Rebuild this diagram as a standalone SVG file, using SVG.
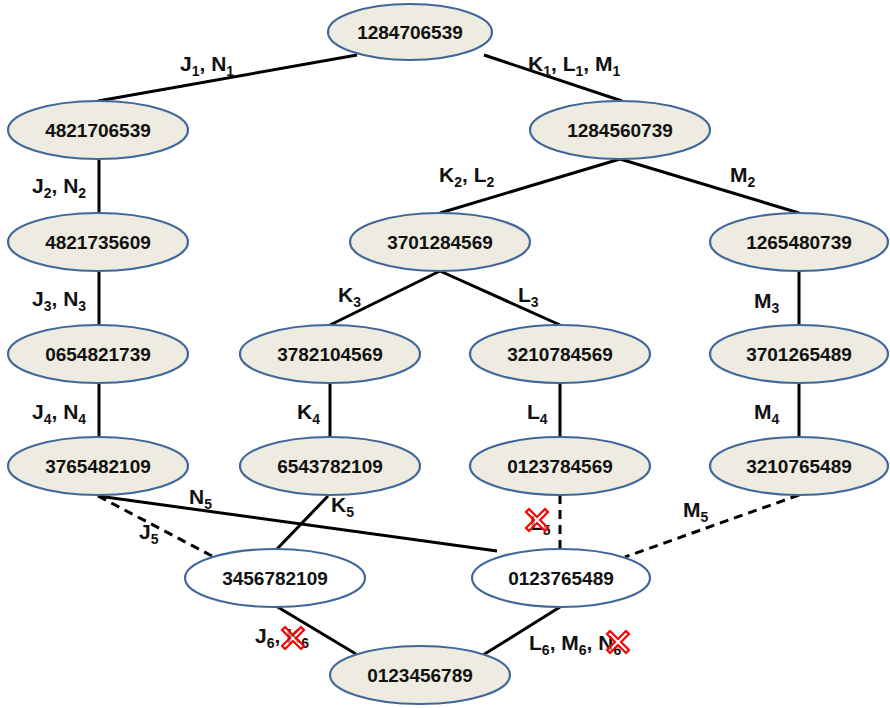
<svg xmlns="http://www.w3.org/2000/svg" width="890" height="708" viewBox="0 0 890 708">
<style>
.n ellipse{fill:#EEECE1;stroke:#41679A;stroke-width:2.2}
.n.w ellipse{fill:#FFFFFF}
.n text{font-family:"Liberation Sans",Arial,sans-serif;font-weight:bold;font-size:19px;text-anchor:middle;fill:#111}
.c line{stroke:#000;stroke-width:3}
.c line.d{stroke-dasharray:9,6}
.l{font-family:"Liberation Sans",Arial,sans-serif;font-weight:bold;font-size:21px;fill:#111}
.s{font-size:14px}
.x{fill:#fff;fill-opacity:0.55;stroke:#FF0000;stroke-width:2.2;stroke-linejoin:miter}
</style>
<defs>
<path id="xm" d="M-11,-8 L-8,-11 L0,-3 L8,-11 L11,-8 L3,0 L11,8 L8,11 L0,3 L-8,11 L-11,8 L-3,0 Z"/>
</defs>
<g class="c">
<line x1="357" y1="55" x2="98" y2="101"/>
<line x1="484" y1="55" x2="622" y2="101"/>
<line x1="99" y1="159" x2="99" y2="213"/>
<line x1="620" y1="159" x2="440" y2="213"/>
<line x1="620" y1="159" x2="799" y2="213"/>
<line x1="99" y1="271" x2="99" y2="325"/>
<line x1="440" y1="271" x2="330" y2="325"/>
<line x1="440" y1="271" x2="560" y2="325"/>
<line x1="799" y1="271" x2="799" y2="325"/>
<line x1="99" y1="383" x2="99" y2="437"/>
<line x1="330" y1="383" x2="330" y2="437"/>
<line x1="560" y1="383" x2="560" y2="437"/>
<line x1="799" y1="383" x2="799" y2="437"/>
<line class="d" x1="98" y1="496" x2="212" y2="556"/>
<line x1="98" y1="496" x2="497" y2="551"/>
<line x1="328" y1="496" x2="277" y2="549"/>
<line class="d" x1="560" y1="495" x2="560" y2="549"/>
<line class="d" x1="799" y1="495" x2="625" y2="557"/>
<line x1="276" y1="606" x2="356" y2="654"/>
<line x1="483" y1="655" x2="560" y2="607"/>
</g>
<g id="n1284706539" class="n"><ellipse cx="410" cy="32" rx="82" ry="28"/><text x="410" y="39">1284706539</text></g>
<g id="n4821706539" class="n"><ellipse cx="98" cy="130" rx="90" ry="29"/><text x="98" y="137">4821706539</text></g>
<g id="n1284560739" class="n"><ellipse cx="620" cy="130" rx="90" ry="29"/><text x="620" y="137">1284560739</text></g>
<g id="n4821735609" class="n"><ellipse cx="98" cy="242" rx="90" ry="29"/><text x="98" y="249">4821735609</text></g>
<g id="n3701284569" class="n"><ellipse cx="440" cy="242" rx="90" ry="29"/><text x="440" y="249">3701284569</text></g>
<g id="n1265480739" class="n"><ellipse cx="799" cy="242" rx="89" ry="29"/><text x="799" y="249">1265480739</text></g>
<g id="n0654821739" class="n"><ellipse cx="98" cy="354" rx="90" ry="29"/><text x="98" y="361">0654821739</text></g>
<g id="n3782104569" class="n"><ellipse cx="330" cy="354" rx="90" ry="29"/><text x="330" y="361">3782104569</text></g>
<g id="n3210784569" class="n"><ellipse cx="560" cy="354" rx="90" ry="29"/><text x="560" y="361">3210784569</text></g>
<g id="n3701265489" class="n"><ellipse cx="799" cy="354" rx="89" ry="29"/><text x="799" y="361">3701265489</text></g>
<g id="n3765482109" class="n"><ellipse cx="98" cy="466" rx="90" ry="29"/><text x="98" y="473">3765482109</text></g>
<g id="n6543782109" class="n"><ellipse cx="330" cy="466" rx="90" ry="29"/><text x="330" y="473">6543782109</text></g>
<g id="n0123784569" class="n"><ellipse cx="560" cy="466" rx="90" ry="29"/><text x="560" y="473">0123784569</text></g>
<g id="n3210765489" class="n"><ellipse cx="799" cy="466" rx="89" ry="29"/><text x="799" y="473">3210765489</text></g>
<g id="n3456782109" class="n w"><ellipse cx="275" cy="578" rx="90" ry="29"/><text x="275" y="585">3456782109</text></g>
<g id="n0123765489" class="n w"><ellipse cx="561" cy="578" rx="89" ry="29"/><text x="561" y="585">0123765489</text></g>
<g id="n0123456789" class="n"><ellipse cx="420" cy="675" rx="90" ry="29"/><text x="420" y="682">0123456789</text></g>
<g id="labels">
<text class="l" x="180" y="71">J<tspan class="s" dy="5">1</tspan><tspan dy="-5">, N</tspan><tspan class="s" dy="5">1</tspan></text>
<text class="l" x="528" y="71">K<tspan class="s" dy="5">1</tspan><tspan dy="-5">, L</tspan><tspan class="s" dy="5">1</tspan><tspan dy="-5">, M</tspan><tspan class="s" dy="5">1</tspan></text>
<text class="l" x="32" y="193">J<tspan class="s" dy="5">2</tspan><tspan dy="-5">, N</tspan><tspan class="s" dy="5">2</tspan></text>
<text class="l" x="439" y="182">K<tspan class="s" dy="5">2</tspan><tspan dy="-5">, L</tspan><tspan class="s" dy="5">2</tspan></text>
<text class="l" x="730" y="182">M<tspan class="s" dy="5">2</tspan></text>
<text class="l" x="32" y="306">J<tspan class="s" dy="5">3</tspan><tspan dy="-5">, N</tspan><tspan class="s" dy="5">3</tspan></text>
<text class="l" x="338" y="302">K<tspan class="s" dy="5">3</tspan></text>
<text class="l" x="518" y="302">L<tspan class="s" dy="5">3</tspan></text>
<text class="l" x="754" y="308">M<tspan class="s" dy="5">3</tspan></text>
<text class="l" x="32" y="419">J<tspan class="s" dy="5">4</tspan><tspan dy="-5">, N</tspan><tspan class="s" dy="5">4</tspan></text>
<text class="l" x="297" y="419">K<tspan class="s" dy="5">4</tspan></text>
<text class="l" x="527" y="419">L<tspan class="s" dy="5">4</tspan></text>
<text class="l" x="754" y="419">M<tspan class="s" dy="5">4</tspan></text>
<text class="l" x="189" y="504">N<tspan class="s" dy="5">5</tspan></text>
<text class="l" x="139" y="539">J<tspan class="s" dy="5">5</tspan></text>
<text class="l" x="331" y="512">K<tspan class="s" dy="5">5</tspan></text>
<text class="l" x="530" y="530">L<tspan class="s" dy="5">5</tspan></text>
<text class="l" x="683" y="517">M<tspan class="s" dy="5">5</tspan></text>
<text class="l" x="255" y="643">J<tspan class="s" dy="5">6</tspan><tspan dy="-5">, K</tspan><tspan class="s" dy="5">6</tspan></text>
<text class="l" x="529" y="650">L<tspan class="s" dy="5">6</tspan><tspan dy="-5">, M</tspan><tspan class="s" dy="5">6</tspan><tspan dy="-5">, N</tspan><tspan class="s" dy="5">6</tspan></text>
</g>
<g id="marks">
<use href="#xm" class="x" x="537" y="520"/>
<use href="#xm" class="x" x="293" y="638"/>
<use href="#xm" class="x" x="618" y="642"/>
</g>
</svg>
